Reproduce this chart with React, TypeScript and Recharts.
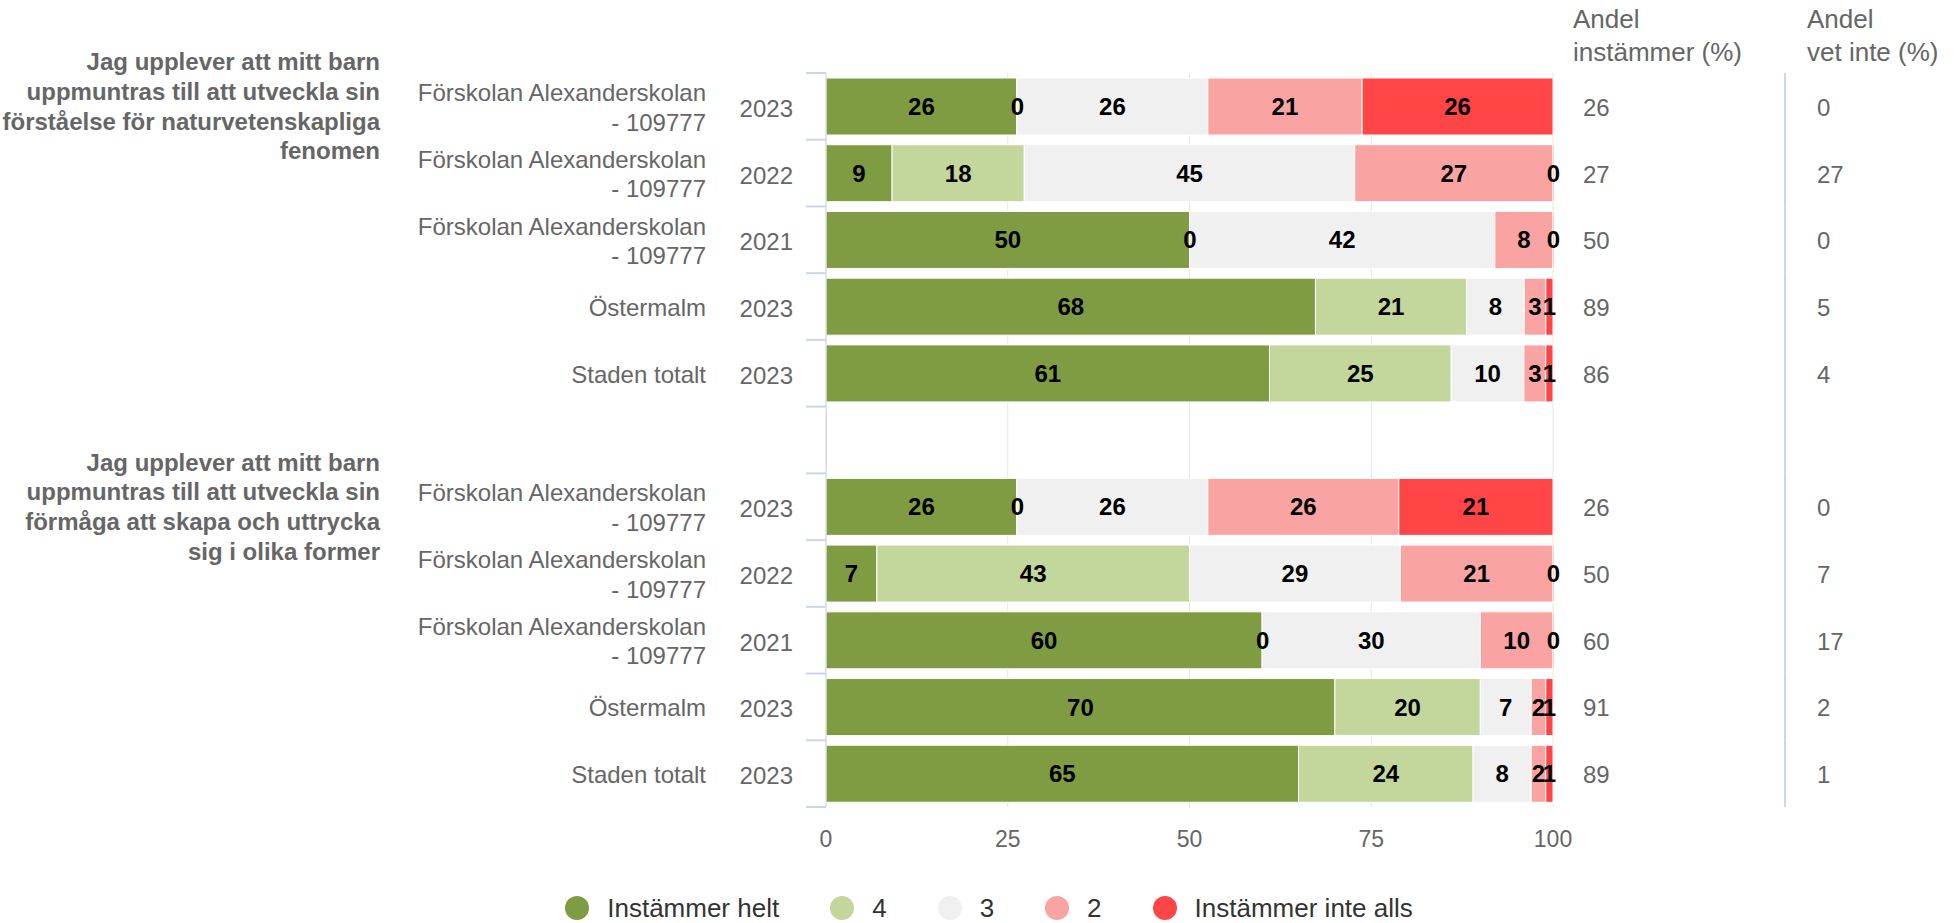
import { BarChart, Bar, XAxis, YAxis, CartesianGrid, LabelList } from 'recharts'

const FONT = '"Liberation Sans", Arial, Helvetica, sans-serif'

const seriesNames = ['Instämmer helt', '4', '3', '2', 'Instämmer inte alls']
const seriesKeys = ['helt', 'fyra', 'tre', 'tva', 'inteAlls']
const seriesColors = ['#7f9c43', '#c3d69b', '#f0f0f0', '#f9a3a3', '#ff4545']

const xTickLabels = [0, 25, 50, 75, 100]

const q1Title = ['Jag upplever att mitt barn', 'uppmuntras till att utveckla sin', 'förståelse för naturvetenskapliga', 'fenomen']
const q2Title = ['Jag upplever att mitt barn', 'uppmuntras till att utveckla sin', 'förmåga att skapa och uttrycka', 'sig i olika former']

const units = [
  'Förskolan Alexanderskolan - 109777',
  'Förskolan Alexanderskolan - 109777',
  'Förskolan Alexanderskolan - 109777',
  'Östermalm',
  'Staden totalt',
]
const years = ['2023', '2022', '2021', '2023', '2023']

const q1Helt = [26, 9, 50, 68, 61]
const q1Fyra = [0, 18, 0, 21, 25]
const q1Tre = [26, 45, 42, 8, 10]
const q1Tva = [21, 27, 8, 3, 3]
const q1InteAlls = [26, 0, 0, 1, 1]
const q1Andel = [26, 27, 50, 89, 86]
const q1VetInte = [0, 27, 0, 5, 4]

const q2Helt = [26, 7, 60, 70, 65]
const q2Fyra = [0, 43, 0, 20, 24]
const q2Tre = [26, 29, 30, 7, 8]
const q2Tva = [26, 21, 10, 2, 2]
const q2InteAlls = [21, 0, 0, 1, 1]
const q2Andel = [26, 50, 60, 91, 89]
const q2VetInte = [0, 7, 17, 2, 1]

function group(q: string, title: string[], helt: number[], fyra: number[], tre: number[], tva: number[], inteAlls: number[], andel: number[], vetInte: number[]) {
  return units.map((unit, i) => ({
    id: `${q}-${i}`,
    unit,
    year: years[i],
    title: i === 0 ? title : null,
    helt: helt[i],
    fyra: fyra[i],
    tre: tre[i],
    tva: tva[i],
    inteAlls: inteAlls[i],
    andel: andel[i],
    vetInte: vetInte[i],
  }))
}

const rows: any[] = [
  ...group('q1', q1Title, q1Helt, q1Fyra, q1Tre, q1Tva, q1InteAlls, q1Andel, q1VetInte),
  { id: 'gap', unit: '', year: '', title: null, helt: null, fyra: null, tre: null, tva: null, inteAlls: null, andel: null, vetInte: null },
  ...group('q2', q2Title, q2Helt, q2Fyra, q2Tre, q2Tva, q2InteAlls, q2Andel, q2VetInte),
]

const W = 1959
const H = 923
const TOP = 73
const PLOT_H = 734
const BAND = PLOT_H / rows.length
const AXIS_COLOR = '#ccd6eb'
const TEXT = '#666666'

const findRow = (id: string) => rows.find(r => r.id === id)

function LeftTick({ x, y, payload, index }: any) {
  const row = findRow(payload.value)
  const lx1 = x + 12
  const lx2 = x + 32
  const lines = row && row.unit.includes(' - ')
    ? [row.unit.split(' - ')[0], '- ' + row.unit.split(' - ')[1]]
    : [row?.unit ?? '']
  return (
    <g>
      <line x1={lx1} x2={lx2} y1={y - BAND / 2} y2={y - BAND / 2} stroke={AXIS_COLOR} strokeWidth={2} />
      {index === rows.length - 1 && (
        <line x1={lx1} x2={lx2} y1={y + BAND / 2} y2={y + BAND / 2} stroke={AXIS_COLOR} strokeWidth={2} />
      )}
      <text x={x - 1} y={y + 2} textAnchor="end" dominantBaseline="central" fill={TEXT} fontSize={24} fontFamily={FONT}>
        {row?.year}
      </text>
      {lines.map((l: string, i: number) => (
        <text key={i} x={x - 88} y={y + 1 + (i - (lines.length - 1) / 2) * 29.5} textAnchor="end" dominantBaseline="central" fill={TEXT} fontSize={24} fontFamily={FONT}>
          {l}
        </text>
      ))}
      {row?.title && row.title.map((l: string, i: number) => (
        <text key={'t' + i} x={x - 414} y={y + (i - 1.5) * 29.7} textAnchor="end" dominantBaseline="central" fill={TEXT} fontSize={24} fontWeight={700} fontFamily={FONT}>
          {l}
        </text>
      ))}
    </g>
  )
}

function RightTick({ x, y, payload, index }: any) {
  const row = findRow(payload.value)
  return (
    <g>
      {index === 0 && (
        <g fill={TEXT} fontSize={26} fontFamily={FONT}>
          <text x={x + 20} y={y - 87} dominantBaseline="central">Andel</text>
          <text x={x + 20} y={y - 54} dominantBaseline="central">instämmer (%)</text>
          <text x={x + 254} y={y - 87} dominantBaseline="central">Andel</text>
          <text x={x + 254} y={y - 54} dominantBaseline="central">vet inte (%)</text>
        </g>
      )}
      <line x1={x + 232} x2={x + 232} y1={y - BAND / 2} y2={y + BAND / 2} stroke={AXIS_COLOR} strokeWidth={2} />
      {row && row.andel != null && (
        <text x={x + 30} y={y + 1} dominantBaseline="central" fill={TEXT} fontSize={24} fontFamily={FONT}>{row.andel}</text>
      )}
      {row && row.vetInte != null && (
        <text x={x + 264} y={y + 1} dominantBaseline="central" fill={TEXT} fontSize={24} fontFamily={FONT}>{row.vetInte}</text>
      )}
    </g>
  )
}

export default function App() {
  return (
    <div style={{ position: 'absolute', left: 0, top: 0, width: W, height: H, background: '#fff' }}>
      <BarChart
        width={W}
        height={H}
        data={rows}
        layout="vertical"
        stackOffset="expand"
        margin={{ top: TOP, right: 0, left: 0, bottom: H - TOP - PLOT_H - 40 }}
      >
        <CartesianGrid horizontal={false} stroke="#e6e6e6" yAxisId="left" />
        <XAxis
          type="number"
          domain={[0, 1]}
          ticks={xTickLabels.map(v => v / 100)}
          tickFormatter={(v: number) => String(Math.round(v * 100))}
          axisLine={false}
          tickLine={false}
          tickSize={0}
          tickMargin={24}
          height={40}
          tick={{ fill: TEXT, fontSize: 23, fontFamily: FONT }}
        />
        <YAxis
          yAxisId="left"
          type="category"
          dataKey="id"
          width={826}
          axisLine={{ stroke: AXIS_COLOR, strokeWidth: 1 }}
          tickLine={false}
          tickSize={20}
          tickMargin={12}
          interval={0}
          tick={(p: any) => <LeftTick {...p} />}
        />
        <YAxis
          yAxisId="right"
          orientation="right"
          type="category"
          dataKey="id"
          width={406}
          axisLine={false}
          tickLine={false}
          tickSize={0}
          tickMargin={0}
          interval={0}
          tick={(p: any) => <RightTick {...p} />}
        />
        {seriesKeys.map((k, i) => (
          <Bar
            key={k}
            yAxisId="left"
            dataKey={k}
            name={seriesNames[i]}
            stackId="a"
            fill={seriesColors[i]}
            stroke="#ffffff"
            strokeWidth={1}
            barSize={57}
            minPointSize={1}
            isAnimationActive={false}
          >
            <LabelList dataKey={k} position="center" fill="#000000" fontSize={24} fontWeight={700} fontFamily={FONT} />
          </Bar>
        ))}
      </BarChart>
      <div style={{
        position: 'absolute',
        left: 0,
        top: 893,
        width: W,
        paddingLeft: 19,
        boxSizing: 'border-box',
        display: 'flex',
        justifyContent: 'center',
        gap: 51,
      }}>
        {seriesNames.map((n, i) => (
          <div key={n} style={{ display: 'flex', alignItems: 'center', gap: 18 }}>
            <span style={{ width: 24, height: 24, borderRadius: '50%', background: seriesColors[i], display: 'inline-block' }} />
            <span style={{ fontSize: 26, lineHeight: '30px', color: '#333333', fontFamily: FONT }}>{n}</span>
          </div>
        ))}
      </div>
    </div>
  )
}
